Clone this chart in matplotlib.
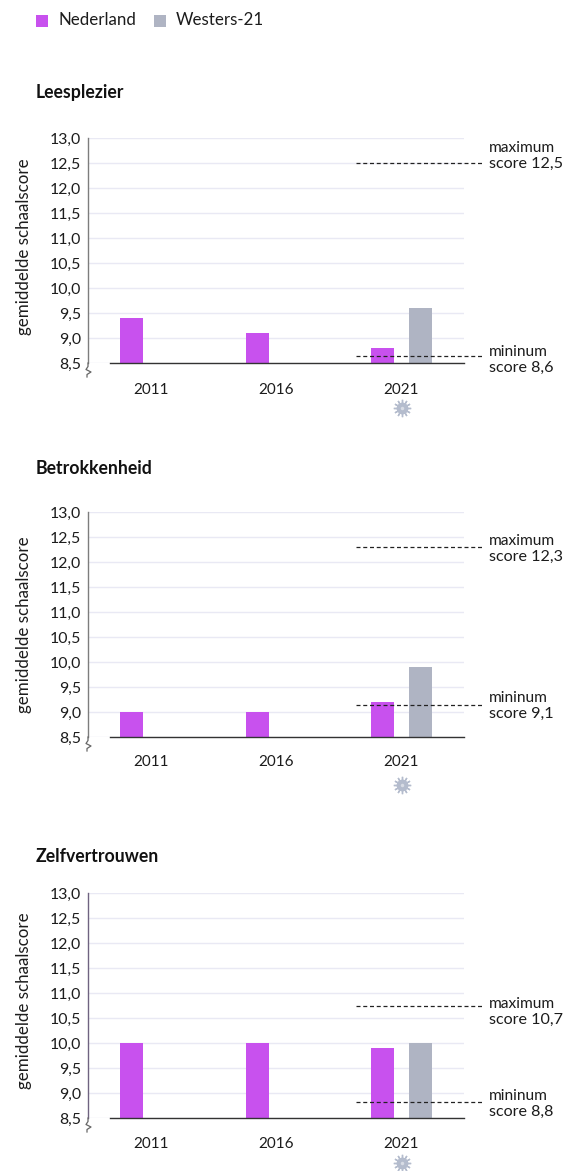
import matplotlib
matplotlib.use("Agg")
import matplotlib.pyplot as plt
from matplotlib.patches import Rectangle
from matplotlib.transforms import blended_transform_factory as blend

plt.rcParams['font.family'] = ['Lato', 'DejaVu Sans']

W, H = 568, 1171
years = ['2011', '2016', '2021']
y_ticks = [8.5, 9.0, 9.5, 10.0, 10.5, 11.0, 11.5, 12.0, 12.5, 13.0]
titles = ['Leesplezier', 'Betrokkenheid', 'Zelfvertrouwen']
nederland = [[9.4, 9.1, 8.8], [9.0, 9.0, 9.2], [10.0, 10.0, 9.9]]
westers = [9.6, 9.9, 10.0]
max_scores = [12.5, 12.3, 10.7]
min_scores = [8.6, 9.1, 8.8]
max_lines = [12.5, 12.3, 10.74]
min_lines = [8.64, 9.15, 8.82]
y_label = 'gemiddelde schaalscore'
legend_names = ['Nederland', 'Westers-21']

PURPLE = '#c851ee'
GREY = '#afb4c3'
GRID = '#e9e9f4'
TXT = '#1c1c1c'

# top px, bottom px, title px, spine colour, x-label pad, icon offset, ylabel centre px,
# label px for (maximum, its score, mininum, its score)
panels = [
    (138, 363, 92.5, '#7d7d7d', 14.7, 45, 247, (148, 164, 352, 368)),
    (512, 737, 468, '#7d7d7d', 13, 48, 625, (541, 557, 698, 714)),
    (893, 1118, 856, '#6f6380', 13.5, 45, 1001, (1004, 1020, 1096, 1112)),
]
L, R = 88, 464

fig = plt.figure(figsize=(W / 100, H / 100), dpi=100, facecolor='white')

def fx(x): return x / W
def fy(y): return 1 - y / H

for i, (top, bot, ty, spc, xpad, icon, ylc, lab) in enumerate(panels):
    ax = fig.add_axes([fx(L), fy(bot), (R - L) / W, (bot - top) / H])
    ax.set_xlim(-0.5, 2.5)
    ax.set_ylim(8.5, 13.0)
    ax.set_facecolor('none')
    for s in ['top', 'right', 'bottom']:
        ax.spines[s].set_visible(False)
    ax.spines['left'].set_color(spc)
    ax.spines['left'].set_linewidth(1.0)
    ax.set_yticks(y_ticks)
    ax.set_yticklabels([f'{v:.1f}'.replace('.', ',') for v in y_ticks], fontsize=11.4, color=TXT)
    ax.tick_params(axis='y', length=0, pad=5)
    ax.grid(axis='y', color=GRID, linewidth=1.0)
    ax.set_axisbelow(True)
    ax.set_xticks(range(3))
    ax.set_xticklabels(years, fontsize=11.0, color=TXT)
    ax.tick_params(axis='x', length=0, pad=xpad)
    ax.set_ylabel(y_label, fontsize=12.2, color=TXT)
    ax.yaxis.set_label_coords(fx(32.5), fy(ylc), transform=fig.transFigure)

    off = 18.7 / 125.33
    bw = 23 / 125.33
    pos = [0 - off, 1 - off, 2 - off]
    ax.bar(pos, nederland[i], width=bw, color=PURPLE, zorder=2)
    ax.bar([2 + off], [westers[i]], width=bw, color=GREY, zorder=2)

    # baseline starts right of the axis
    ax.plot([(110 - L) / (R - L), 1], [0, 0], transform=ax.transAxes, color='#333333', lw=1.0, clip_on=False, zorder=3)

    # axis break
    brk_x = [L, L, L - 2, L + 3, L - 1, L - 1]
    brk_y = [bot, bot + 3.5, bot + 6.5, bot + 9, bot + 11.5, bot + 14]
    fig.add_artist(plt.Line2D([fx(v) for v in brk_x], [fy(v) for v in brk_y],
                              transform=fig.transFigure, color='#666666', lw=0.9))

    # reference lines and labels
    xt = blend(ax.transAxes, ax.transData)
    x0, x1 = (356 - L) / (R - L), (482 - L) / (R - L)
    for line in (max_lines[i], min_lines[i]):
        ax.plot([x0, x1], [line, line], transform=xt, color='#222222', lw=0.9,
                dashes=(3.2, 2.2), clip_on=False, zorder=4)
    txts = ['maximum', 'score ' + f'{max_scores[i]:.1f}'.replace('.', ','),
            'mininum', 'score ' + f'{min_scores[i]:.1f}'.replace('.', ',')]
    for s, yp in zip(txts, lab):
        fig.text(fx(489), fy(yp), s, fontsize=11.6 if s.startswith('score') else 11.2,
                 color=TXT, ha='left', va='center')

    # virus icon under 2021
    ic = blend(ax.transData, ax.transAxes)
    iy = -icon / (bot - top)
    ax.plot([2.004], [iy], transform=ic, marker=(12, 2, 0), ms=12.5, mew=1.0, color='#b4bccd', clip_on=False, zorder=5)
    ax.plot([2.004], [iy], transform=ic, marker='o', ms=8.5, mew=0, color='#b4bccd', clip_on=False, zorder=6)
    ax.plot([2.004], [iy], transform=ic, marker='o', ms=2.5, mew=0, color='#d8dce5', clip_on=False, zorder=7)

    fig.text(fx(36), fy(ty), titles[i], fontsize=12.7, fontweight='bold', color='#111111', ha='left', va='center')

# legend
for x, c, name, tx in [(36, PURPLE, legend_names[0], 59), (154, GREY, legend_names[1], 176)]:
    fig.add_artist(Rectangle((fx(x), fy(27)), 12 / W, 12 / H, transform=fig.transFigure, color=c, lw=0))
    fig.text(fx(tx), fy(20), name, fontsize=12.2, color=TXT, ha='left', va='center')

fig.savefig('out.png', dpi=100)
